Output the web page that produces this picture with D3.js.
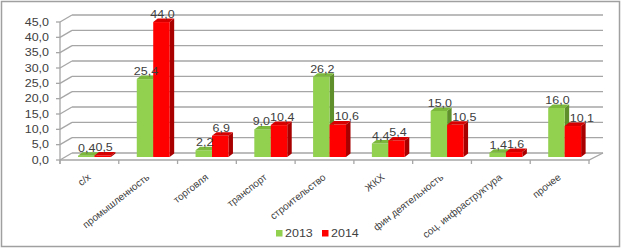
<!DOCTYPE html>
<html><head><meta charset="utf-8">
<script src="https://cdn.jsdelivr.net/npm/d3@7"></script>
<style>body{margin:0;background:#fff}svg{display:block}text{font-family:"Liberation Sans",Arial,sans-serif}</style>
</head><body><svg id="c" width="627" height="250"></svg>
<script>
const categories = ["с/х","промышленность","торговля","транспорт","строительство","ЖКХ","фин деятельность","соц. инфраструктура","прочее"];
const values2013 = [0.4,25.4,2.2,9.0,26.2,4.4,15.0,1.4,16.0];
const values2014 = [0.5,44.0,6.9,10.4,10.6,5.4,10.5,1.6,10.1];
const seriesNames = ["2013","2014"];
const yTicks = [0,5,10,15,20,25,30,35,40,45];

const svg = d3.select("#c");
const SX = 1.25; // horizontal stretch of glyphs
const fmt = v => d3.format(".1f")(v).replace(".", ",");
const colors = [{front:"#92D050",side:"#5f8f2b",top:"#7cb83c"},{front:"#FF0000",side:"#a80000",top:"#d60000"}];
const txtCol = "#404040";
function label(x0,y0,str,size,anchor){
  return svg.append("text").attr("transform",`translate(${x0},${y0}) scale(${SX},1)`)
    .attr("text-anchor",anchor).attr("font-size",size).attr("fill",txtCol).text(str);
}

svg.append("rect").attr("x",1.5).attr("y",1.5).attr("width",618).attr("height",245).attr("fill","none").attr("stroke","#a0a0a0").attr("stroke-width",1.5);

const x = d3.scaleBand().domain(categories).range([60,589]).paddingInner(0).paddingOuter(0);
const yFront = d3.scaleLinear().domain([0,45]).range([160,22]);
const yBack = d3.scaleLinear().domain([0,45]).range([153,15]);
const yBar = d3.scaleLinear().domain([0,45]).range([157,19]);
const DX = 12;
const bdx = 4.5, bdy = -3.5;
const grid = "#a6a6a6";

yTicks.forEach(t=>{
  svg.append("line").attr("x1",60+DX).attr("x2",603).attr("y1",yBack(t)).attr("y2",yBack(t)).attr("stroke",grid).attr("stroke-width",1.3);
  svg.append("line").attr("x1",60).attr("y1",yFront(t)).attr("x2",60+DX).attr("y2",yBack(t)).attr("stroke",grid).attr("stroke-width",1.3);
  svg.append("line").attr("x1",56).attr("x2",60).attr("y1",yFront(t)).attr("y2",yFront(t)).attr("stroke",grid).attr("stroke-width",1.3);
  label(49,yFront(t)+3.5,fmt(t),10,"end");
});
svg.append("line").attr("x1",60).attr("x2",60).attr("y1",yFront(45)).attr("y2",yFront(0)+4).attr("stroke",grid).attr("stroke-width",1.3);
svg.append("path").attr("d",`M60,${yFront(0)}L589,${yFront(0)}L603,${yBack(0)}`).attr("fill","none").attr("stroke",grid).attr("stroke-width",1.3);
x.domain().map(c=>x(c)).concat([x.range()[1]]).forEach(xx=>{
  svg.append("line").attr("x1",xx).attr("x2",xx).attr("y1",yFront(0)).attr("y2",yFront(0)+4).attr("stroke",grid).attr("stroke-width",1.3);
});

const bw = x.bandwidth();
const series = [values2013, values2014];
const barW = bw*0.28;
const barX = (c,s)=> x(c) + bw*0.306 + s*barW;
categories.forEach((c,i)=>{
  series.forEach((vals,s)=>{
    const w = barW, bx = barX(c,s);
    const yt = yBar(vals[i]), yb = yBar(0);
    const col = colors[s];
    const g = svg.append("g");
    g.append("path").attr("d",`M${bx+w},${yt}L${bx+w+bdx},${yt+bdy}L${bx+w+bdx},${yb+bdy}L${bx+w},${yb}Z`).attr("fill",col.side);
    g.append("rect").attr("x",bx).attr("y",yt).attr("width",w).attr("height",yb-yt).attr("fill",col.front);
    g.append("path").attr("d",`M${bx},${yt}L${bx+bdx},${yt+bdy}L${bx+w+bdx},${yt+bdy}L${bx+w},${yt}Z`).attr("fill",col.top);
  });
});
// data labels with simple pair collision avoidance
categories.forEach((c,i)=>{
  const pos = series.map((vals,s)=>{
    let cx = barX(c,s) + barW/2 + 1;
    if (s===1 && vals[i] < values2013[i]) cx += 8;
    const t = label(cx, yBar(vals[i])-4, fmt(vals[i]), 10, "middle");
    return {t, cx, y:yBar(vals[i])-4, w:t.node().getComputedTextLength()*SX};
  });
  const [a,b] = pos;
  if (Math.abs(a.y-b.y) < 10) {
    const overlap = (a.cx + a.w/2) - (b.cx - b.w/2);
    if (overlap > 0) {
      a.cx -= overlap/2; b.cx += overlap/2;
      a.t.attr("transform",`translate(${a.cx},${a.y}) scale(${SX},1)`);
      b.t.attr("transform",`translate(${b.cx},${b.y}) scale(${SX},1)`);
    }
  }
});
categories.forEach(c=>{
  const cx = x(c)+bw/2+2;
  svg.append("text").attr("transform",`translate(${cx},178.5) rotate(-38)`)
    .attr("text-anchor","end").attr("font-size",10).attr("fill",txtCol).text(c);
});
const legX = [276,322];
seriesNames.forEach((n,s)=>{
  svg.append("rect").attr("x",legX[s]).attr("y",230).attr("width",6.5).attr("height",6.5).attr("fill",colors[s].front);
  label(legX[s]+9,237,n,10,"start");
});
</script></body></html>
